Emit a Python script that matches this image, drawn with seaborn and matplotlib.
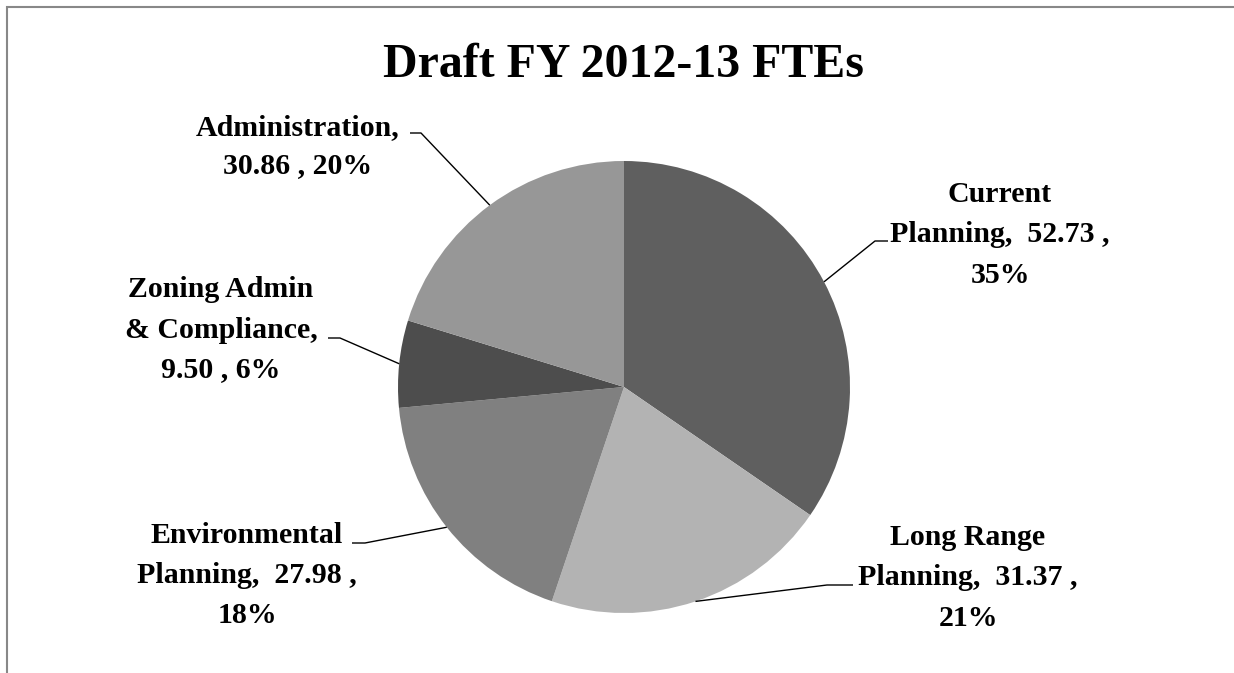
import numpy as np
import matplotlib
matplotlib.use("Agg")
import matplotlib.pyplot as plt
import seaborn as sns

# ---- data ----
categories = ["Current Planning", "Long Range Planning", "Environmental Planning",
              "Zoning Admin & Compliance", "Administration"]
values = [52.73, 31.37, 27.98, 9.50, 30.86]
label_lines = [
    ["Current", "Planning,  {v} ,", "{p}"],
    ["Long Range", "Planning,  {v} ,", "{p}"],
    ["Environmental", "Planning,  {v} ,", "{p}"],
    ["Zoning Admin", "& Compliance,", "{v} , {p}"],
    ["Administration,", "{v} , {p}"],
]
colors = ["#5f5f5f", "#b3b3b3", "#808080", "#4d4d4d", "#979797"]
title = "Draft FY 2012-13 FTEs"

# ---- layout (image pixel coords, y from top) ----
W, H = 1234, 673
CX, CY, R = 624, 387, 226
label_center_x = [1000, 968, 247, 221, 298]
label_baselines = [[202, 242, 283], [545, 585, 626], [543, 583, 623],
                   [297, 338, 377], [135, 173]]
# leader: (x_text_end, x_elbow, y)
leaders = [(888, 875, 241), (853, 827, 585), (352, 365, 543),
           (328, 340, 338), (410, 421, 133)]

sns.set_theme(style="white")
plt.rcParams['font.family'] = ['Liberation Serif', 'DejaVu Serif']

fig = plt.figure(figsize=(W / 100, H / 100), dpi=100)
ax = fig.add_axes([0, 0, 1, 1])

def Y(y):
    return H - y

wedges, _ = ax.pie(values, colors=colors, startangle=90, counterclock=False,
                   center=(CX, Y(CY)), radius=R, frame=True,
                   wedgeprops=dict(linewidth=0))
ax.set_xlim(0, W)
ax.set_ylim(0, H)
ax.set_aspect("equal")
ax.axis("off")

total = sum(values)
fs = 21.5
for i, w in enumerate(wedges):
    v = values[i]
    p = f"{round(v / total * 100)}%"
    for line, by in zip(label_lines[i], label_baselines[i]):
        ax.text(label_center_x[i], Y(by), line.format(v=f"{v:.2f}", p=p),
                ha="center", va="baseline", fontsize=fs, fontweight="bold",
                color="black")
    ang = np.deg2rad((w.theta1 + w.theta2) / 2)
    px = CX + R * np.cos(ang)
    py = Y(CY) + R * np.sin(ang)
    x0, x1, ly = leaders[i]
    ax.plot([x0, x1, px], [Y(ly), Y(ly), py], color="black", lw=1.0,
            solid_capstyle="butt")

ax.text(623, Y(77), title, ha="center", va="baseline", fontsize=34.5,
        fontweight="bold", color="black")

# partial frame border
ax.plot([6.5, 6.5, W], [0, Y(6.5), Y(6.5)], color="#888888", lw=1.5,
        solid_joinstyle="miter")

fig.savefig("out.png", dpi=100)
